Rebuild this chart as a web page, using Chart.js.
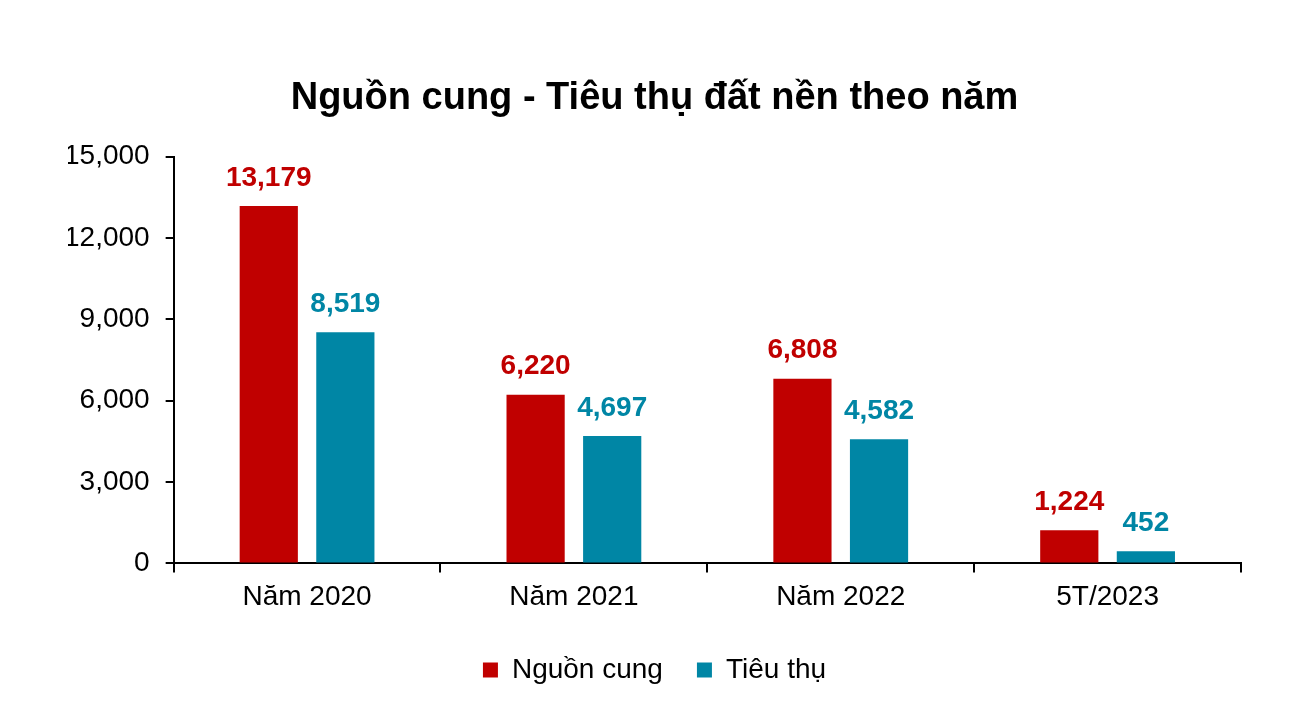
<!DOCTYPE html>
<html>
<head>
<meta charset="utf-8">
<script src="https://cdn.jsdelivr.net/npm/chart.js@4"></script>
<style>
  body { margin: 0; background: #fff; }
</style>
</head>
<body>
<canvas id="chart" width="1300" height="714"></canvas>
<script>
var categories = ['Năm 2020', 'Năm 2021', 'Năm 2022', '5T/2023'];
var supply = [13179, 6220, 6808, 1224];
var sold = [8519, 4697, 4582, 452];
var yTicks = [0, 3000, 6000, 9000, 12000, 15000];

var red = '#C00000';
var teal = '#0086A5';
var family = '"Liberation Sans", Arial, sans-serif';

function fmt(v) {
    return v.toLocaleString('en-US');
}

// value labels over the bars
var barLabels = {
    id: 'barLabels',
    afterDatasetsDraw: function (chart) {
        var ctx = chart.ctx;
        ctx.save();
        ctx.font = 'bold 28px ' + family;
        ctx.textAlign = 'center';
        ctx.textBaseline = 'bottom';
        chart.data.datasets.forEach(function (ds, i) {
            var meta = chart.getDatasetMeta(i);
            ctx.fillStyle = ds.backgroundColor;
            meta.data.forEach(function (bar, j) {
                ctx.fillText(fmt(ds.data[j]), bar.x, bar.y - 14);
            });
        });
        ctx.restore();
    }
};

var chart = new Chart(document.getElementById('chart').getContext('2d'), {
    type: 'bar',
    data: {
        labels: categories,
        datasets: [{
            label: 'Nguồn cung',
            data: supply,
            backgroundColor: red,
            barPercentage: 0.76,
            categoryPercentage: 0.574
        }, {
            label: 'Tiêu thụ',
            data: sold,
            backgroundColor: teal,
            barPercentage: 0.76,
            categoryPercentage: 0.574
        }]
    },
    plugins: [barLabels],
    options: {
        responsive: false,
        animation: false,
        layout: {
            padding: { left: 68, right: 59, top: 20, bottom: 20 }
        },
        plugins: {
            title: {
                display: true,
                text: 'Nguồn cung - Tiêu thụ đất nền theo năm',
                color: '#000',
                font: { family: family, size: 38, weight: 'bold' },
                padding: { top: 56, bottom: 35 }
            },
            legend: {
                position: 'bottom',
                labels: {
                    color: '#000',
                    boxWidth: 15,
                    boxHeight: 15,
                    padding: 34,
                    font: { family: family, size: 28 }
                }
            },
            tooltip: { enabled: false }
        },
        scales: {
            x: {
                grid: {
                    display: true,
                    offset: true,
                    drawOnChartArea: false,
                    drawTicks: true,
                    tickLength: 9,
                    color: '#000',
                    lineWidth: 2
                },
                border: { color: '#000', width: 2 },
                ticks: {
                    color: '#000',
                    padding: 8,
                    font: { family: family, size: 28 }
                }
            },
            y: {
                min: 0,
                max: 15000,
                afterBuildTicks: function (axis) {
                    axis.ticks = yTicks.map(function (v) { return { value: v }; });
                },
                // let the tick labels hang into the left padding
                afterFit: function (axis) {
                    axis.width -= 20;
                },
                grid: {
                    display: true,
                    drawOnChartArea: false,
                    drawTicks: true,
                    tickLength: 8,
                    color: '#000',
                    lineWidth: 2
                },
                border: { color: '#000', width: 2 },
                ticks: {
                    color: '#000',
                    padding: 16,
                    font: { family: family, size: 28 },
                    callback: function (v) { return fmt(v); }
                }
            }
        }
    }
});
</script>
</body>
</html>
